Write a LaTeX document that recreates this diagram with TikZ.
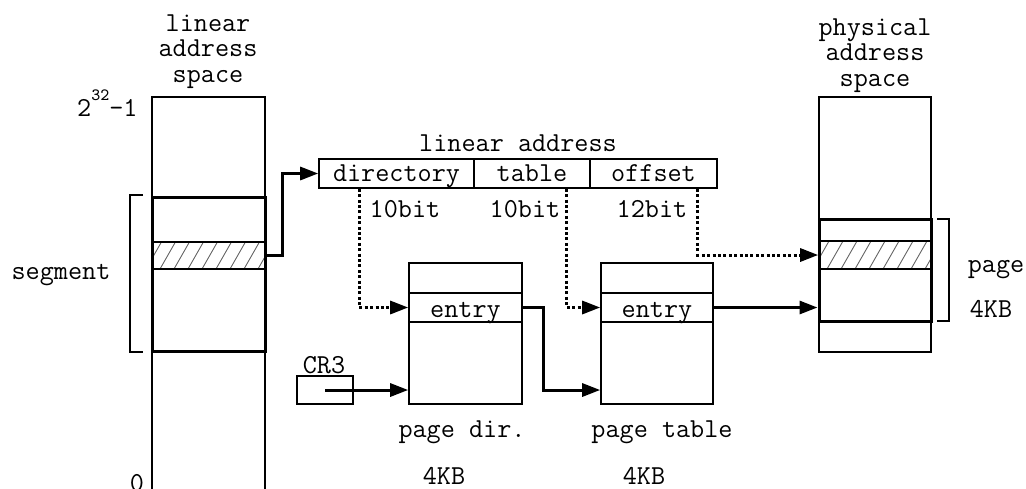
\documentclass[tikz,border=0pt]{standalone}
\usetikzlibrary{arrows.meta,calc}
% diagonal hatching inside a rectangle (x1,y1)-(x2,y2)
\newcommand\hatchfill[4]{%
  \begin{scope}
    \clip (#1,#2) rectangle (#3,#4);
    \foreach \k in {0,...,10}
      \draw[black!60, line width=0.45pt] ($(#1,#4)+(-20+\k*14,0)$) -- ++(16,-28);
  \end{scope}}
\begin{document}
\begin{tikzpicture}[x=0.5pt,y=-0.5pt,
  txt/.style={font=\ttfamily\fontsize{13.7}{12.75}\selectfont, inner sep=0pt},
  region/.style={draw, line width=0.8pt, inner sep=0pt, txt},
  cell/.style={region, text height=9.5pt, text depth=1.5pt},
  rowcell/.style={region, text height=10.5pt, text depth=1pt},
  thickbox/.style={draw, line width=1.5pt, inner sep=0pt},
  tip/.style={-{Triangle[length=9pt,width=6.5pt]}},
  solidarrow/.style={tip, line width=1.5pt},
  dotarrow/.style={tip, line width=1.5pt, dash pattern=on 1.5pt off 1.2pt},
  bracket/.style={line width=0.8pt},
]
\useasboundingbox (0,0) rectangle (1026,488);

% linear address space
\node[region, minimum width=56.5pt, minimum height=201.5pt] (linsp) at (208.5,298.5) {};
\hatchfill{152}{242}{265}{269}
\node[region, minimum width=56.5pt, minimum height=13.5pt] (lhatch) at (208.5,255.5) {};
\node[thickbox, minimum width=56.5pt, minimum height=77pt] (seg) at (208.5,274) {};
\draw[bracket] (143,195) -| (130,352) -- (143,352);
\node[txt, align=center, anchor=north] (linlbl) at (208,14.3) {linear\\address\\space};
\node[txt, anchor=base east] (toplbl) at (138,116) {2\raisebox{8pt}{\fontsize{8.6}{9}\selectfont 32}-1};
\node[txt, anchor=base] (zerolbl) at (137,491) {0};
\node[txt, anchor=base] (seglbl) at (61,279) {segment};

% physical address space
\node[region, minimum width=56pt, minimum height=127.5pt] (phys) at (875,224.5) {};
\hatchfill{819}{241}{931}{269}
\node[region, minimum width=56pt, minimum height=14pt] (phatch) at (875,255) {};
\node[thickbox, minimum width=56pt, minimum height=51pt] (pg) at (875,270) {};
\draw[bracket] (937,219) -| (949,321) -- (937,321);
\node[txt, align=center, anchor=north] (physlbl) at (875,18.3) {physical\\address\\space};
\node[txt, anchor=base] (pglbl) at (996,272) {page};
\node[txt, anchor=base] (pgsize) at (991,317) {4KB};

% linear address fields
\node[txt, anchor=base] (lalbl) at (518,151) {linear address};
\node[cell, minimum width=77.5pt, minimum height=14.5pt] (dir) at (396.5,173.5) {directory};
\node[cell, minimum width=58pt, minimum height=14.5pt] (tab) at (532,173.5) {table};
\node[cell, minimum width=63.5pt, minimum height=14.5pt] (off) at (653.5,173.5) {offset};
\node[txt, anchor=base] (bdir) at (405,217) {10bit};
\node[txt, anchor=base] (btab) at (525,217) {10bit};
\node[txt, anchor=base] (boff) at (652,217) {12bit};

% page directory and page table
\node[region, minimum width=56.5pt, minimum height=70.5pt] (pd) at (465.5,333.5) {};
\node[rowcell, minimum width=56.5pt, minimum height=14.5pt] (pde) at (465.5,307.5) {entry};
\node[region, minimum width=56pt, minimum height=70.5pt] (pt) at (657,333.5) {};
\node[rowcell, minimum width=56pt, minimum height=14.5pt] (pte) at (657,307.5) {entry};
\node[txt, anchor=base] (pdlbl) at (462,437) {page dir.};
\node[txt, anchor=base] (pdsize) at (444,484) {4KB};
\node[txt, anchor=base] (ptlbl) at (662,437) {page table};
\node[txt, anchor=base] (ptsize) at (644,484) {4KB};

% CR3 register
\node[region, minimum width=28pt, minimum height=14pt] (cr3) at (325,390) {};
\node[txt, anchor=base] (cr3lbl) at (324,373) {CR3};

% connectors
\draw[solidarrow] (lhatch.east) -- ++(17,0) |- (dir.west);
\draw[dotarrow] ($(dir.south west)+(41,0)$) |- (pde.west);
\draw[dotarrow] ($(tab.south east)+(-24,0)$) |- (pte.west);
\draw[dotarrow] ($(off.south east)+(-20,0)$) |- (phatch.west);
\draw[solidarrow] (cr3.center) -- (cr3.center -| pd.west);
\draw[solidarrow] (pde.east) -- ++(21,0) |- (cr3.center -| pt.west);
\draw[solidarrow] (pte.east) -- (pte.east -| pg.west);
\end{tikzpicture}
\end{document}
